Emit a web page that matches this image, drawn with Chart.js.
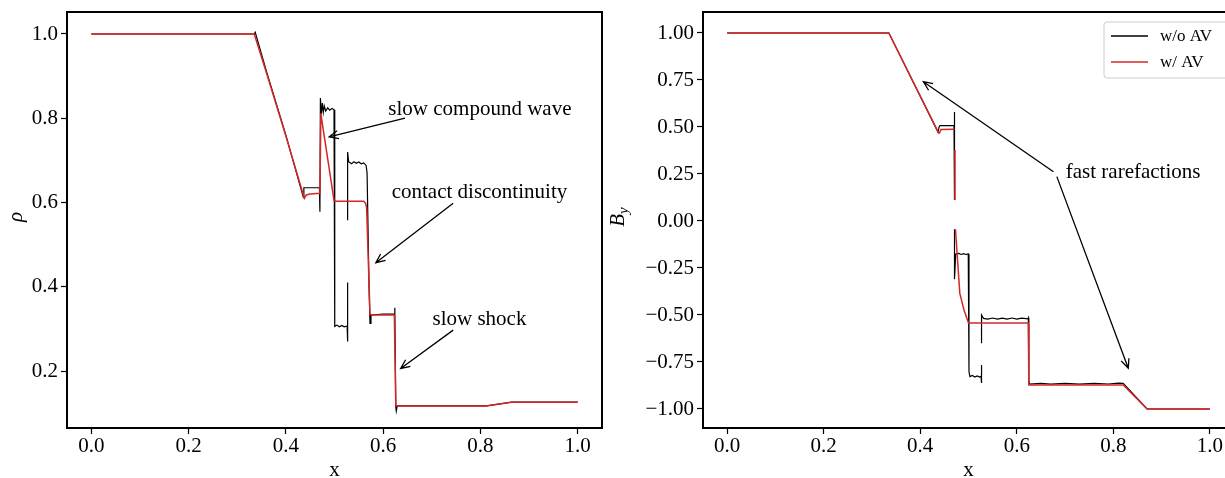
<!DOCTYPE html>
<html>
<head>
<meta charset="utf-8">
<script src="https://cdn.jsdelivr.net/npm/chart.js@4.4.0/dist/chart.umd.min.js"></script>
<style>
  html, body { margin: 0; padding: 0; background: #fff; overflow: hidden; width: 1225px; height: 478px; }
  .panel { position: absolute; top: 0; height: 478px; }
  #left { left: 0; width: 610px; }
  #right { left: 610px; width: 650px; }
</style>
</head>
<body>
<div class="panel" id="left"><canvas id="rhoChart" width="610" height="478"></canvas></div>
<div class="panel" id="right"><canvas id="byChart" width="650" height="478"></canvas></div>
<script>
// tick labels
const xTicks = [0, 0.2, 0.4, 0.6, 0.8, 1.0];
const rhoTicks = [0.2, 0.4, 0.6, 0.8, 1.0];
const byTicks = [-1, -0.75, -0.5, -0.25, 0, 0.25, 0.5, 0.75, 1];

// density, w/o AV  (null = gap in the drawn line)
const rhoNoAvX = [0, 0.335, 0.337, 0.36, 0.40, 0.436, 0.437, 0.469, 0.470, 0.471, 0.473, 0.475, 0.477, 0.479, 0.482, 0.486, 0.490, 0.495, 0.499,
  0.500, 0.501, 0.505, 0.510, 0.515, 0.520, 0.526, 0.527, 0.527, 0.527, 0.527, 0.527, 0.529, 0.535, 0.540, 0.545, 0.550, 0.555, 0.560, 0.565,
  0.567, 0.571, 0.573, 0.575, 0.600, 0.623, 0.624, 0.626, 0.627, 0.629, 0.812, 0.864, 1.0];
const rhoNoAvY = [1.0, 1.0, 1.004, 0.912, 0.760, 0.612, 0.635, 0.635, 0.578, 0.848, 0.810, 0.836, 0.814, 0.829, 0.817, 0.825, 0.819, 0.823, 0.820,
  0.306, 0.306, 0.309, 0.305, 0.308, 0.305, 0.307, 0.270, 0.410, null, 0.558, 0.720, 0.697, 0.692, 0.697, 0.693, 0.696, 0.692, 0.694, 0.688,
  0.670, 0.400, 0.313, 0.333, 0.335, 0.335, 0.350, 0.115, 0.105, 0.117, 0.117, 0.126, 0.126];

// density, w/ AV
const rhoAvX = [0, 0.335, 0.36, 0.40, 0.438, 0.442, 0.450, 0.470, 0.472, 0.474, 0.499, 0.503, 0.560, 0.564, 0.566, 0.573, 0.577, 0.623, 0.626,
  0.628, 0.812, 0.864, 1.0];
const rhoAvY = [1.0, 1.0, 0.908, 0.758, 0.610, 0.618, 0.620, 0.622, 0.812, 0.795, 0.605, 0.603, 0.603, 0.598, 0.588, 0.335, 0.333, 0.333, 0.120,
  0.117, 0.117, 0.126, 0.126];

// B_y, w/o AV
const byNoAvX = [0, 0.335, 0.437, 0.439, 0.441, 0.470, 0.471, 0.471, 0.471, 0.471, 0.471, 0.4735, 0.480, 0.485, 0.490, 0.495, 0.4995,
  0.501, 0.501, 0.503, 0.508, 0.513, 0.518, 0.523, 0.526, 0.527, 0.527, 0.527, 0.527, 0.527, 0.531, 0.540, 0.550, 0.560, 0.570, 0.580,
  0.590, 0.600, 0.610, 0.623, 0.624, 0.625, 0.627, 0.650, 0.670, 0.700, 0.730, 0.760, 0.790, 0.810, 0.8205, 0.870, 1.0];
const byNoAvY = [1.0, 1.0, 0.472, 0.500, 0.507, 0.507, 0.580, 0.112, null, -0.044, -0.310, -0.176, -0.172, -0.178, -0.174, -0.178, -0.175,
  -0.216, -0.800, -0.828, -0.822, -0.830, -0.824, -0.830, -0.826, -0.862, -0.766, null, -0.650, -0.500, -0.518, -0.522, -0.516, -0.522, -0.517, -0.522,
  -0.516, -0.522, -0.517, -0.520, -0.515, -0.850, -0.868, -0.864, -0.868, -0.864, -0.868, -0.864, -0.867, -0.862, -0.864, -1.0, -1.0];

// B_y, w/ AV
const byAvX = [0, 0.335, 0.4375, 0.440, 0.443, 0.471, 0.472, 0.472, 0.472, 0.472, 0.473, 0.482, 0.4907, 0.500, 0.624, 0.625, 0.8205, 0.870, 1.0];
const byAvY = [1.0, 1.0, 0.472, 0.468, 0.487, 0.488, null, 0.378, 0.112, null, -0.044, -0.385, -0.473, -0.542, -0.542, -0.872, -0.872, -1.0, -1.0];

const FONT = '"Liberation Serif", "Times New Roman", serif';
const RED = '#d62728';

function pts(xs, ys) {
  return xs.map((x, i) => ({ x: x, y: ys[i] }));
}

function arrow(ctx, x0, y0, x1, y1) {
  const ang = Math.atan2(y1 - y0, x1 - x0);
  const len = 10, spread = 0.42;
  ctx.beginPath();
  ctx.moveTo(x0, y0);
  ctx.lineTo(x1, y1);
  ctx.moveTo(x1 - len * Math.cos(ang - spread), y1 - len * Math.sin(ang - spread));
  ctx.lineTo(x1, y1);
  ctx.lineTo(x1 - len * Math.cos(ang + spread), y1 - len * Math.sin(ang + spread));
  ctx.stroke();
}

// frame, annotations, axis titles, legend
const decor = {
  id: 'decor',
  afterDatasetsDraw(chart, args, opts) {
    const ctx = chart.ctx;
    const a = chart.chartArea;
    const sx = chart.scales.x, sy = chart.scales.y;
    ctx.save();
    ctx.strokeStyle = '#000';
    ctx.lineWidth = 2;
    ctx.strokeRect(a.left, a.top, a.right - a.left, a.bottom - a.top);

    ctx.fillStyle = '#000';
    ctx.font = '21px ' + FONT;
    ctx.textAlign = 'center';
    ctx.textBaseline = 'alphabetic';
    (opts.notes || []).forEach(n => {
      ctx.fillText(n.text, sx.getPixelForValue(n.x), sy.getPixelForValue(n.y));
    });
    ctx.lineWidth = 1.3;
    (opts.arrows || []).forEach(r => {
      arrow(ctx, sx.getPixelForValue(r[0]), sy.getPixelForValue(r[1]), sx.getPixelForValue(r[2]), sy.getPixelForValue(r[3]));
    });

    // x title
    ctx.font = '21px ' + FONT;
    ctx.fillText('x', (a.left + a.right) / 2, 476);

    // y title
    ctx.save();
    ctx.translate(opts.yTitleX, (a.top + a.bottom) / 2 - 3);
    ctx.rotate(-Math.PI / 2);
    ctx.textAlign = 'left';
    ctx.font = 'italic 21px ' + FONT;
    if (opts.yTitleSub) {
      const w1 = ctx.measureText(opts.yTitle).width;
      ctx.font = 'italic 15px ' + FONT;
      const w2 = ctx.measureText(opts.yTitleSub).width;
      const start = -(w1 + w2) / 2;
      ctx.font = 'italic 21px ' + FONT;
      ctx.fillText(opts.yTitle, start, 0);
      ctx.font = 'italic 15px ' + FONT;
      ctx.fillText(opts.yTitleSub, start + w1, 4);
    } else {
      const w1 = ctx.measureText(opts.yTitle).width;
      ctx.fillText(opts.yTitle, -w1 / 2, 0);
    }
    ctx.restore();

    if (opts.legend) {
      const lx = a.right - 130, ly = a.top + 10;
      ctx.fillStyle = 'rgba(255,255,255,0.8)';
      ctx.strokeStyle = '#cccccc';
      ctx.lineWidth = 1;
      ctx.beginPath();
      ctx.roundRect(lx, ly, 126, 56, 3);
      ctx.fill();
      ctx.stroke();
      const rows = [['w/o AV', '#000'], ['w/ AV', RED]];
      rows.forEach((r, i) => {
        const yy = ly + 14 + i * 26;
        ctx.strokeStyle = r[1];
        ctx.lineWidth = 1.4;
        ctx.beginPath();
        ctx.moveTo(lx + 7, yy);
        ctx.lineTo(lx + 44, yy);
        ctx.stroke();
        ctx.fillStyle = '#000';
        ctx.font = '17px ' + FONT;
        ctx.textAlign = 'left';
        ctx.textBaseline = 'middle';
        ctx.fillText(r[0], lx + 56, yy + 1);
      });
    }
    ctx.restore();
  }
};

function makeChart(id, noAv, av, yMin, yMax, yTicks, yFmt, yWidth, padRight, decorOpts) {
  return new Chart(document.getElementById(id), {
    type: 'line',
    data: {
      datasets: [
        { label: 'w/ AV', data: av, borderColor: RED, borderWidth: 1.5, order: 0 },
        { label: 'w/o AV', data: noAv, borderColor: '#000', borderWidth: 1.2, order: 1 }
      ]
    },
    options: {
      responsive: false,
      animation: false,
      spanGaps: false,
      elements: { point: { radius: 0 }, line: { tension: 0 } },
      layout: { padding: { top: 12, right: padRight, left: 0, bottom: 0 } },
      plugins: { legend: { display: false }, tooltip: { enabled: false }, decor: decorOpts },
      scales: {
        x: {
          type: 'linear', min: -0.05, max: 1.05,
          afterBuildTicks: s => { s.ticks = xTicks.map(v => ({ value: v })); },
          afterFit: s => { s.height = 50; s.paddingLeft = 0; s.paddingRight = 0; },
          ticks: { color: '#000', font: { family: FONT, size: 21 }, padding: 0, maxRotation: 0, callback: v => v.toFixed(1) },
          grid: { drawOnChartArea: false, tickLength: 6, tickColor: '#000', tickWidth: 1.2 },
          border: { display: false }
        },
        y: {
          type: 'linear', min: yMin, max: yMax,
          afterBuildTicks: s => { s.ticks = yTicks.map(v => ({ value: v })); },
          afterFit: s => { s.width = yWidth; s.paddingTop = 0; s.paddingBottom = 0; },
          ticks: { color: '#000', font: { family: FONT, size: 21 }, padding: 3, callback: yFmt },
          grid: { drawOnChartArea: false, tickLength: 6, tickColor: '#000', tickWidth: 1.2 },
          border: { display: false }
        }
      }
    },
    plugins: [decor]
  });
}

makeChart('rhoChart', pts(rhoNoAvX, rhoNoAvY), pts(rhoAvX, rhoAvY), 0.0647, 1.0522, rhoTicks,
  v => v.toFixed(1), 67, 8, {
    yTitle: '\u03c1', yTitleX: 22,
    notes: [
      { text: 'slow compound wave', x: 0.799, y: 0.808 },
      { text: 'contact discontinuity', x: 0.798, y: 0.610 },
      { text: 'slow shock', x: 0.798, y: 0.309 }
    ],
    arrows: [
      [0.645, 0.800, 0.489, 0.756],
      [0.744, 0.598, 0.585, 0.457],
      [0.744, 0.297, 0.636, 0.206]
    ]
  });

makeChart('byChart', pts(byNoAvX, byNoAvY), pts(byAvX, byAvY), -1.1011, 1.1117, byTicks,
  v => (v < 0 ? '\u2212' : '') + Math.abs(v).toFixed(2), 93, 26, {
    yTitle: 'B', yTitleSub: 'y', yTitleX: 14, legend: true,
    notes: [
      { text: 'fast rarefactions', x: 0.841, y: 0.227 }
    ],
    arrows: [
      [0.676, 0.262, 0.4065, 0.741],
      [0.683, 0.236, 0.831, -0.783]
    ]
  });
</script>
</body>
</html>
